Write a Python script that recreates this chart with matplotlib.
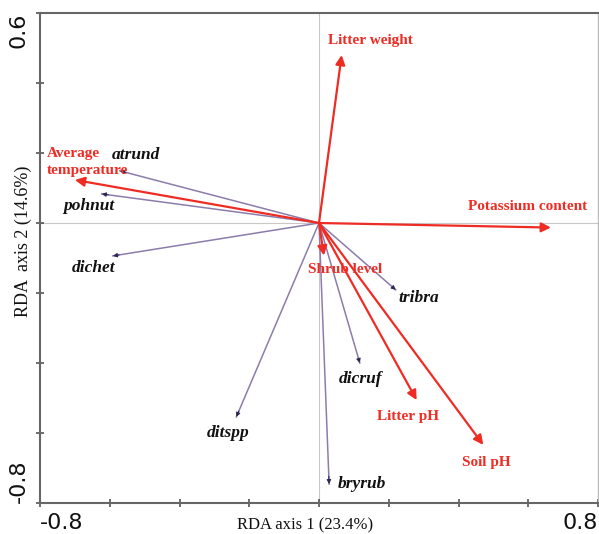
import matplotlib

matplotlib.use("Agg")
import matplotlib.pyplot as plt

# Экологические переменные (красные стрелки): координаты концов и подписей
env_names = ["Litter weight", "Potassium content", "Average\ntemperature",
             "Shrub level", "Litter pH", "Soil pH"]
env_x = [0.065, 0.665, -0.700, 0.014, 0.280, 0.471]
env_y = [0.480, -0.013, 0.123, -0.093, -0.506, -0.634]
env_lx = [0.026, 0.426, -0.780, -0.031, 0.166, 0.409]
env_ly = [0.520, 0.046, 0.174, -0.134, -0.554, -0.683]

# Виды (фиолетовые стрелки)
sp_names = ["atrund", "pohnut", "dichet", "ditspp", "bryrub", "dicruf", "tribra"]
sp_x = [-0.571, -0.623, -0.591, -0.237, 0.029, 0.117, 0.220]
sp_y = [0.149, 0.083, -0.094, -0.554, -0.746, -0.400, -0.191]
sp_lx = [-0.594, -0.734, -0.709, -0.323, 0.054, 0.057, 0.229]
sp_ly = [0.194, 0.049, -0.129, -0.600, -0.746, -0.446, -0.214]

x_ticks = [-0.8, -0.6, -0.4, -0.2, 0.0, 0.2, 0.4, 0.6, 0.8]
x_labels = ["-0.8", "", "", "", "", "", "", "", "0.8"]
y_ticks = [-0.8, -0.6, -0.4, -0.2, 0.0, 0.2, 0.4, 0.6]
y_labels = ["-0.8", "", "", "", "", "", "", "0.6"]

RED = "#ee2c24"
PURPLE = "#8c7cab"
HEAD = "#2e2858"
INK = "#111111"
SERIF = "Liberation Serif"

fig = plt.figure(figsize=(5.99, 5.34), dpi=100, facecolor="white")
ax = fig.add_axes([40 / 599, 31 / 534, 558 / 599, 490 / 534])
ax.set_xlim(-0.8, 0.8)
ax.set_ylim(-0.8, 0.6)

# нулевые линии
ax.axhline(0, color="#c8c8c8", lw=0.8, zorder=0)
ax.axvline(0, color="#c8c8c8", lw=0.8, zorder=0)

# виды: тонкая линия + маленький тёмный наконечник
for name, x, y, lx, ly in zip(sp_names, sp_x, sp_y, sp_lx, sp_ly):
    ax.plot([0, x], [0, y], color=PURPLE, lw=1.1, zorder=2)
    ax.annotate("", xy=(x, y), xytext=(x * 0.97, y * 0.97),
                arrowprops=dict(arrowstyle="-|>", color=HEAD, lw=0.8,
                                mutation_scale=6, shrinkA=0, shrinkB=0),
                zorder=3)
    ax.text(lx, ly, name, fontsize=12.5, fontweight="bold", style="italic",
            family=SERIF, color=INK, ha="left", va="center", zorder=4)

# переменные среды: красные стрелки
for name, x, y, lx, ly in zip(env_names, env_x, env_y, env_lx, env_ly):
    ax.annotate("", xy=(x, y), xytext=(0, 0),
                arrowprops=dict(arrowstyle="-|>", color=RED, lw=1.6,
                                mutation_scale=14, shrinkA=0, shrinkB=0),
                zorder=3)
    ax.text(lx, ly, name, fontsize=11, fontweight="bold", family=SERIF,
            color=RED, ha="left", va="center", linespacing=1.35, zorder=4)

ax.set_xticks(x_ticks)
ax.set_xticklabels(x_labels, fontsize=16)
ax.set_yticks(y_ticks)
ax.set_yticklabels(y_labels, fontsize=16, rotation=90)
xt = ax.get_xticklabels()
xt[0].set_ha("left")
xt[-1].set_ha("right")
yt = ax.get_yticklabels()
yt[0].set_va("bottom")
yt[-1].set_va("top")
for t in yt:
    t.set_ha("right")
ax.tick_params(direction="inout", length=6, width=1.2, color="#555555",
               labelcolor=INK, pad=4)
ax.tick_params(axis="y", pad=5)

ax.set_xlabel("RDA axis 1 (23.4%)", family=SERIF, fontsize=12, color=INK)
ax.xaxis.set_label_coords(0.475, -0.03)
ax.set_ylabel("RDA  axis 2 (14.6%)", family=SERIF, fontsize=13, color=INK)
ax.yaxis.set_label_coords(-0.014, 0.535)

for s in ("top", "left", "bottom"):
    ax.spines[s].set_color("#666666")
    ax.spines[s].set_linewidth(1.5)
ax.spines["right"].set_color("#bbbbbb")
ax.spines["right"].set_linewidth(1.0)

fig.savefig("out.png", dpi=100, facecolor="white")
